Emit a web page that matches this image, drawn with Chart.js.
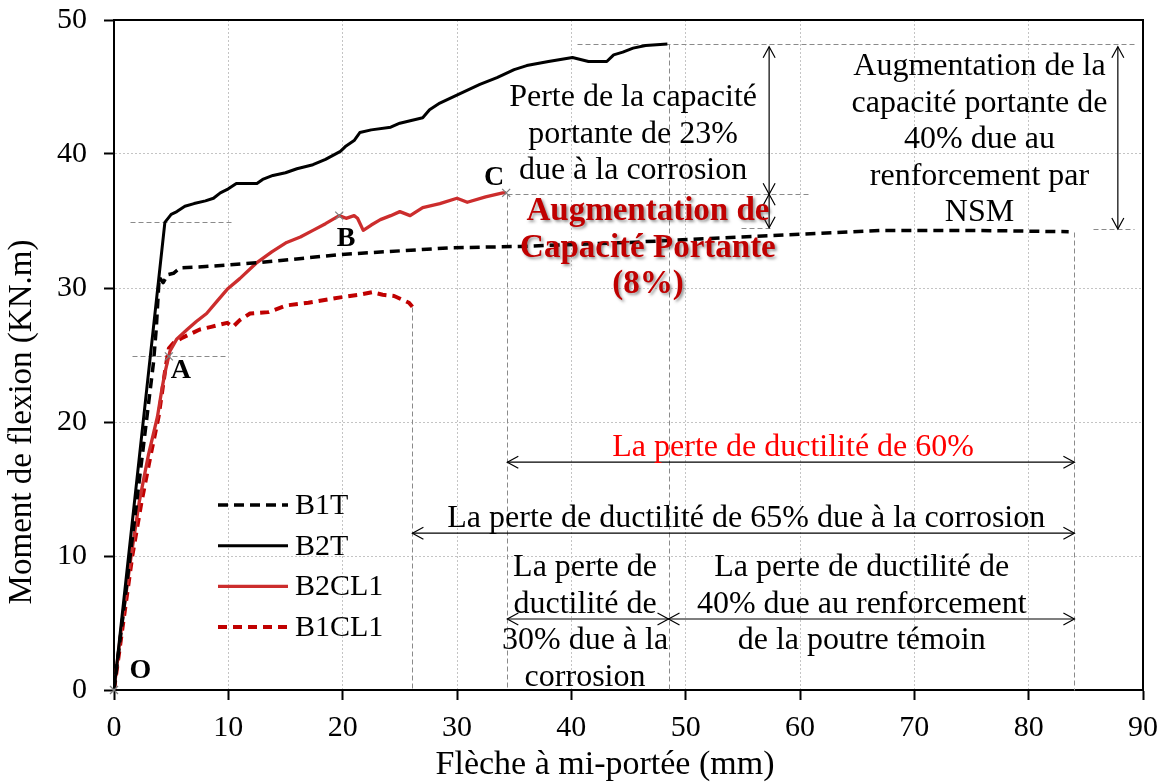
<!DOCTYPE html>
<html>
<head>
<meta charset="utf-8">
<script src="https://cdn.jsdelivr.net/npm/chart.js@4.4.1/dist/chart.umd.min.js"></script>
<style>
  html, body { margin: 0; padding: 0; background: #fff; }
  #chart { display: block; }
</style>
</head>
<body>
<canvas id="chart" width="1170" height="782"></canvas>
<script>
const SERIF = '"Liberation Serif", "Times New Roman", serif';

// Midspan deflection (mm) and bending moment (kN.m) for each beam
const b1tX = [0, 3.45, 3.7, 3.95, 4.3, 4.7, 5.2, 5.8, 8.0, 12.8, 19.8, 29.4, 35.5, 45.0, 54.8, 67.3, 75.0, 83.5];
const b1tY = [0, 24.4, 27.0, 30.8, 30.4, 31.0, 31.1, 31.5, 31.6, 31.9, 32.5, 33.0, 33.1, 33.4, 33.8, 34.3, 34.3, 34.2];

const b2tX = [0, 4.45, 5.0, 5.5, 6.2, 7.0, 8.0, 8.7, 9.3, 10.0, 10.7, 12.5, 13.0, 13.9, 15.0, 16.0, 17.4, 18.5, 19.8, 20.3,
  21.0, 21.5, 22.5, 24.2, 25.0, 27.0, 27.6, 28.5, 30.5, 32.0, 33.5, 35.0, 36.1, 38.0, 40.1, 41.5, 43.1, 43.7, 44.5, 45.4, 46.5, 48.4];
const b2tY = [0, 34.9, 35.5, 35.7, 36.1, 36.3, 36.5, 36.7, 37.1, 37.4, 37.8, 37.8, 38.1, 38.4, 38.6, 38.9, 39.2, 39.6, 40.2, 40.6,
  41.0, 41.6, 41.8, 42.0, 42.3, 42.7, 43.3, 43.8, 44.6, 45.2, 45.7, 46.3, 46.6, 46.9, 47.2, 46.9, 46.9, 47.4, 47.6, 47.9, 48.1, 48.2];

const b2cl1X = [0, 0.7, 1.5, 2.2, 3.0, 3.8, 4.2, 4.46, 4.9, 5.5, 6.4, 7.2, 8.1, 9.0, 9.9, 11.0, 12.5, 13.8, 15.1, 16.3, 17.4,
  18.5, 19.7, 20.3, 21.0, 21.3, 21.8, 22.5, 23.3, 24.2, 25.0, 25.9, 27.0, 28.5, 30.0, 30.9, 32.5, 34.0, 34.3];
const b2cl1Y = [0, 5, 10, 14, 17.5, 20.4, 22.5, 23.7, 25.3, 26.2, 26.9, 27.5, 28.1, 29.0, 29.9, 30.7, 31.9, 32.7, 33.4, 33.8, 34.3,
  34.8, 35.4, 35.2, 35.4, 35.2, 34.3, 34.7, 35.1, 35.4, 35.7, 35.4, 36.0, 36.3, 36.7, 36.4, 36.8, 37.1, 37.1];

const b1cl1X = [0, 0.8, 1.6, 2.4, 3.2, 3.9, 4.5, 4.8, 5.2, 6.0, 7.5, 8.5, 9.9, 10.4, 11.0, 11.9, 13.5, 15.1, 17.0, 19.8,
  21.5, 22.7, 23.0, 23.5, 24.5, 25.3, 25.8, 26.1];
const b1cl1Y = [0, 5, 10, 14, 17.5, 20.4, 24.0, 25.5, 25.9, 26.3, 26.9, 27.1, 27.4, 27.1, 27.6, 28.1, 28.2, 28.7, 28.9, 29.3,
  29.5, 29.7, 29.6, 29.5, 29.4, 29.1, 28.9, 28.6];

// Reference lines [x1, y1, x2, y2]
const guideLines = [
  [1.4, 34.9, 10.4, 34.9],
  [1.6, 24.9, 10.0, 24.9],
  [40.5, 48.2, 89.5, 48.2],
  [48.5, 48.2, 48.5, 0],
  [34.4, 37.0, 60.7, 37.0],
  [34.4, 37.0, 34.4, 0],
  [54.8, 34.5, 57.6, 34.5],
  [85.6, 34.4, 89.2, 34.4],
  [84.0, 34.2, 84.0, 0],
  [26.1, 28.6, 26.1, 0]
];

// Double-headed dimension arrows [x1, y1, x2, y2]
const arrows = [
  [57.3, 48.0, 57.3, 37.0],
  [57.3, 37.0, 57.3, 34.5],
  [87.8, 48.0, 87.8, 34.4],
  [34.4, 17.0, 84.0, 17.0],
  [26.1, 11.7, 84.0, 11.7],
  [34.4, 5.3, 48.5, 5.3],
  [48.5, 5.3, 84.0, 5.3]
];

// Text blocks: centre x, y of the first line, lines
const notes = [
  { x: 45.4, y: 44.2, lines: ['Perte de la capacité', 'portante de 23%', 'due à la corrosion'] },
  { x: 75.7, y: 46.5, lines: ['Augmentation de la', 'capacité portante de', '40% due au', 'renforcement par', 'NSM'] },
  { x: 59.4, y: 18.1, lines: ['La perte de ductilité de 60%'], color: '#ff0000' },
  { x: 55.3, y: 12.8, lines: ['La perte de ductilité de 65% due à la corrosion'] },
  { x: 41.2, y: 9.1, lines: ['La perte de', 'ductilité de', '30% due à la', 'corrosion'] },
  { x: 65.4, y: 9.1, lines: ['La perte de ductilité de', '40% due au renforcement', 'de la poutre témoin'] },
  { x: 46.7, y: 35.7, lines: ['Augmentation de', 'Capacité Portante', '(8%)'], color: '#c00000', bold: true, shadow: true }
];

// Characteristic points O, A, B, C
const keyNames = ['O', 'A', 'B', 'C'];
const keyX = [0, 4.8, 19.7, 34.3];
const keyY = [0, 24.9, 35.4, 37.1];
const keyLabelX = [2.3, 5.85, 20.3, 33.25];
const keyLabelY = [1.4, 23.8, 33.7, 38.2];

const xTitle = 'Flèche à mi-portée (mm)';
const yTitle = 'Moment de flexion (KN.m)';

const toPoints = (xs, ys) => xs.map((v, i) => ({ x: v, y: ys[i] }));

function drawArrowHead(ctx, x, y, angle) {
  const len = 11, half = 6;
  ctx.beginPath();
  ctx.moveTo(x - len * Math.cos(angle) + half * Math.sin(angle), y - len * Math.sin(angle) - half * Math.cos(angle));
  ctx.lineTo(x, y);
  ctx.lineTo(x - len * Math.cos(angle) - half * Math.sin(angle), y - len * Math.sin(angle) + half * Math.cos(angle));
  ctx.stroke();
}

const annotations = {
  id: 'annotations',
  beforeDatasetsDraw(chart) {
    const { ctx, scales: { x, y } } = chart;
    ctx.save();
    ctx.strokeStyle = '#8a8a8a';
    ctx.lineWidth = 1;
    ctx.setLineDash([5, 3]);
    guideLines.forEach(([x1, y1, x2, y2]) => {
      ctx.beginPath();
      ctx.moveTo(Math.round(x.getPixelForValue(x1)) + 0.5, Math.round(y.getPixelForValue(y1)) + 0.5);
      ctx.lineTo(Math.round(x.getPixelForValue(x2)) + 0.5, Math.round(y.getPixelForValue(y2)) + 0.5);
      ctx.stroke();
    });
    ctx.restore();
  },
  afterDatasetsDraw(chart) {
    const { ctx, chartArea: area, scales: { x, y } } = chart;
    ctx.save();

    // top and right frame
    ctx.strokeStyle = '#000';
    ctx.lineWidth = 2;
    ctx.beginPath();
    ctx.moveTo(area.left, area.top);
    ctx.lineTo(area.right, area.top);
    ctx.lineTo(area.right, area.bottom);
    ctx.stroke();

    // dimension arrows
    ctx.lineWidth = 1.2;
    arrows.forEach(([x1, y1, x2, y2]) => {
      const px1 = x.getPixelForValue(x1), py1 = y.getPixelForValue(y1);
      const px2 = x.getPixelForValue(x2), py2 = y.getPixelForValue(y2);
      ctx.beginPath();
      ctx.moveTo(px1, py1);
      ctx.lineTo(px2, py2);
      ctx.stroke();
      const a = Math.atan2(py2 - py1, px2 - px1);
      drawArrowHead(ctx, px2, py2, a);
      drawArrowHead(ctx, px1, py1, a + Math.PI);
    });

    // text blocks
    ctx.textAlign = 'center';
    ctx.textBaseline = 'middle';
    notes.forEach(n => {
      ctx.save();
      ctx.font = n.bold ? 'bold 33px ' + SERIF : '32px ' + SERIF;
      ctx.fillStyle = n.color || '#000';
      if (n.shadow) {
        ctx.shadowColor = 'rgba(60,60,60,0.55)';
        ctx.shadowOffsetX = 2;
        ctx.shadowOffsetY = 2;
        ctx.shadowBlur = 3;
      }
      const cx = x.getPixelForValue(n.x);
      const cy = y.getPixelForValue(n.y);
      n.lines.forEach((t, i) => ctx.fillText(t, cx, cy + i * 36.5));
      ctx.restore();
    });

    // characteristic points
    ctx.strokeStyle = '#7f7f7f';
    ctx.lineWidth = 1.3;
    keyX.forEach((v, i) => {
      const px = x.getPixelForValue(v), py = y.getPixelForValue(keyY[i]);
      ctx.beginPath();
      ctx.moveTo(px - 4, py - 4); ctx.lineTo(px + 4, py + 4);
      ctx.moveTo(px - 4, py + 4); ctx.lineTo(px + 4, py - 4);
      ctx.stroke();
    });
    ctx.fillStyle = '#000';
    ctx.font = 'bold 28px ' + SERIF;
    keyNames.forEach((t, i) => {
      ctx.fillText(t, x.getPixelForValue(keyLabelX[i]), y.getPixelForValue(keyLabelY[i]));
    });

    // axis titles
    ctx.font = '34px ' + SERIF;
    ctx.fillText(xTitle, 605, 765);
    ctx.save();
    ctx.translate(22, 422);
    ctx.rotate(-Math.PI / 2);
    ctx.font = '33px ' + SERIF;
    ctx.fillText(yTitle, 0, 0);
    ctx.restore();

    // legend inside the plot
    ctx.textAlign = 'left';
    ctx.font = '30px ' + SERIF;
    chart.data.datasets.forEach((ds, i) => {
      const ly = 505 + i * 40.7;
      ctx.save();
      ctx.strokeStyle = ds.borderColor;
      ctx.lineWidth = ds.borderWidth;
      ctx.setLineDash(ds.borderDash || []);
      ctx.beginPath();
      ctx.moveTo(218, ly);
      ctx.lineTo(288, ly);
      ctx.stroke();
      ctx.restore();
      ctx.fillText(ds.label, 295, ly + 1);
    });

    ctx.restore();
  }
};

const line = (label, xs, ys, color, dash, width) => ({
  label,
  data: toPoints(xs, ys),
  borderColor: color,
  backgroundColor: color,
  borderWidth: width,
  borderDash: dash,
  borderJoinStyle: 'round',
  borderCapStyle: 'butt',
  showLine: true,
  pointRadius: 0,
  tension: 0
});

new Chart(document.getElementById('chart'), {
  type: 'scatter',
  data: {
    datasets: [
      line('B1T', b1tX, b1tY, '#000000', [10, 6], 3.5),
      line('B2T', b2tX, b2tY, '#000000', [], 3),
      line('B2CL1', b2cl1X, b2cl1Y, '#cc2d2d', [], 3.3),
      line('B1CL1', b1cl1X, b1cl1Y, '#c00000', [9, 6], 4)
    ]
  },
  options: {
    responsive: false,
    animation: false,
    devicePixelRatio: 1,
    layout: { padding: { top: 20, right: 27, left: 0, bottom: 0 } },
    plugins: { legend: { display: false }, tooltip: { enabled: false } },
    scales: {
      x: {
        type: 'linear',
        min: 0, max: 90,
        ticks: { stepSize: 10, color: '#000', font: { family: SERIF, size: 30 }, padding: 10, maxRotation: 0 },
        grid: { color: '#c4c4c4', lineWidth: 1, tickColor: '#000', tickLength: 10, tickWidth: 2 },
        border: { color: '#000', width: 2, dash: [2, 2] },
        afterFit: s => { s.height = 92; s.paddingLeft = 0; s.paddingRight = 0; }
      },
      y: {
        type: 'linear',
        min: 0, max: 50,
        ticks: { stepSize: 10, color: '#000', font: { family: SERIF, size: 30 }, padding: 17 },
        grid: { color: '#c4c4c4', lineWidth: 1, tickColor: '#000', tickLength: 10, tickWidth: 2 },
        border: { color: '#000', width: 2, dash: [2, 2] },
        afterFit: s => { s.width = 114; s.paddingTop = 0; s.paddingBottom = 0; }
      }
    }
  },
  plugins: [annotations]
});
</script>
</body>
</html>
